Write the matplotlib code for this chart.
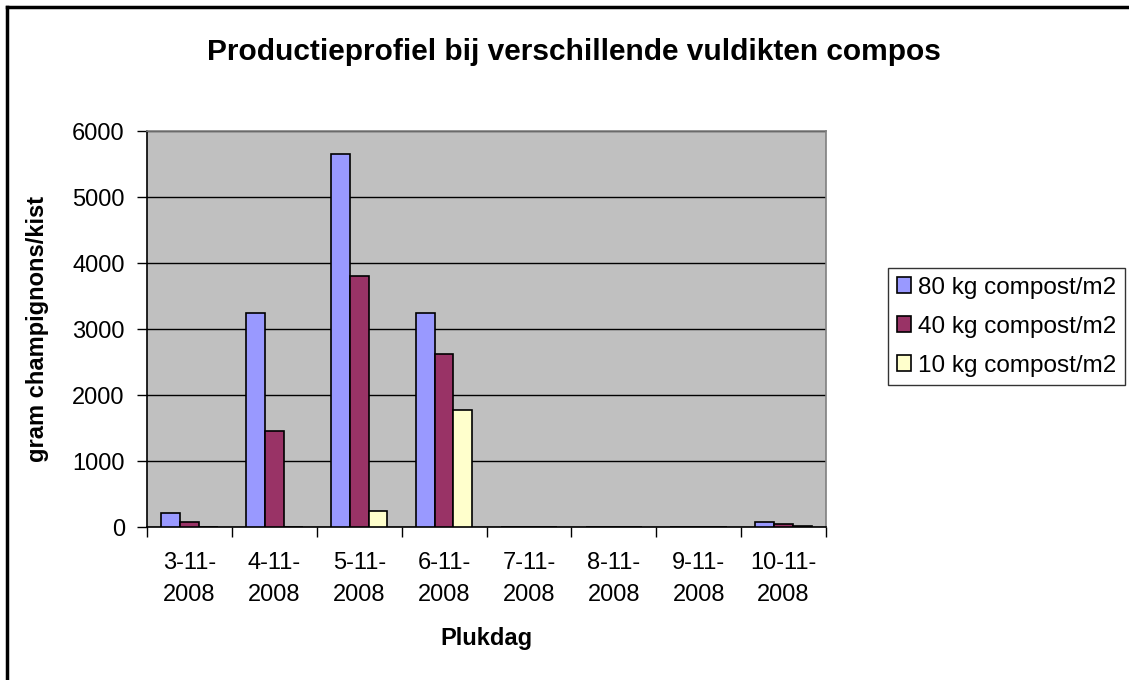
import numpy as np
import matplotlib.pyplot as plt
from matplotlib.lines import Line2D

# --- Data ---
dates = ['3-11-\n2008', '4-11-\n2008', '5-11-\n2008', '6-11-\n2008',
         '7-11-\n2008', '8-11-\n2008', '9-11-\n2008', '10-11-\n2008']
kg80 = [215, 3250, 5650, 3250, 0, 0, 0, 70]
kg40 = [70, 1460, 3800, 2620, 0, 0, 0, 40]
kg10 = [0, 0, 250, 1780, 0, 0, 0, 20]
series_names = ['80 kg compost/m2', '40 kg compost/m2', '10 kg compost/m2']
colors = ['#9999FF', '#993366', '#FFFFCC']

plt.rcParams['font.family'] = ['Liberation Sans', 'DejaVu Sans']

W, H = 1129, 680
fig = plt.figure(figsize=(W / 100, H / 100), dpi=100)
ax = fig.add_axes([147 / W, 1 - 527 / H, (826 - 147) / W, (527 - 131) / H])
ax.set_facecolor('#C0C0C0')

# --- Bars ---
x = np.arange(len(dates))
bw = 1 / 4.5
for i, (vals, name, c) in enumerate(zip([kg80, kg40, kg10], series_names, colors)):
    ax.bar(x + (i - 1) * bw, vals, width=bw, color=c, edgecolor='black',
           linewidth=1.2, label=name, zorder=3)

ax.set_xlim(-0.5, len(dates) - 0.5)
ax.set_ylim(0, 6000)
ax.set_yticks(np.arange(0, 6001, 1000))
ax.yaxis.grid(True, color='black', linewidth=1, zorder=1)
ax.set_axisbelow(True)

# category ticks on the boundaries, labels in the middle
ax.set_xticks(np.arange(-0.5, len(dates)), minor=False)
ax.set_xticklabels([])
ax.set_xticks(x, minor=True)
ax.set_xticklabels(dates, minor=True, fontsize=17, linespacing=1.6)
ax.tick_params(axis='x', which='minor', length=0, pad=18)
ax.tick_params(axis='x', which='major', length=7, width=1, color='black')
ax.tick_params(axis='y', length=7, width=1, labelsize=17, pad=9)

for s in ['top', 'right']:
    ax.spines[s].set_color('#808080')
    ax.spines[s].set_linewidth(1.2)
for s in ['left', 'bottom']:
    ax.spines[s].set_color('black')
    ax.spines[s].set_linewidth(1.2)

ax.set_ylabel('gram champignons/kist', fontsize=17, fontweight='bold', labelpad=17)
ax.set_xlabel('Plukdag', fontsize=17, fontweight='bold', labelpad=15)

fig.text(574 / W, 1 - 52 / H, 'Productieprofiel bij verschillende vuldikten compos',
         ha='center', va='center', fontsize=21.5, fontweight='bold')

leg = fig.legend(loc='upper left', bbox_to_anchor=(888 / W, 1 - 268 / H),
                 fontsize=17.5, frameon=True, fancybox=False, edgecolor='black',
                 handlelength=0.6, handleheight=0.6, handletextpad=0.3,
                 borderpad=0.35, labelspacing=0.7, borderaxespad=0)
leg.get_frame().set_linewidth(1)

# outer chart border (left and top visible)
fig.add_artist(Line2D([7 / W, 7 / W], [0, 1 - 7 / H], color='black', linewidth=2.5))
fig.add_artist(Line2D([7 / W, 1], [1 - 7 / H, 1 - 7 / H], color='black', linewidth=2.5))

fig.savefig('out.png', dpi=100)
